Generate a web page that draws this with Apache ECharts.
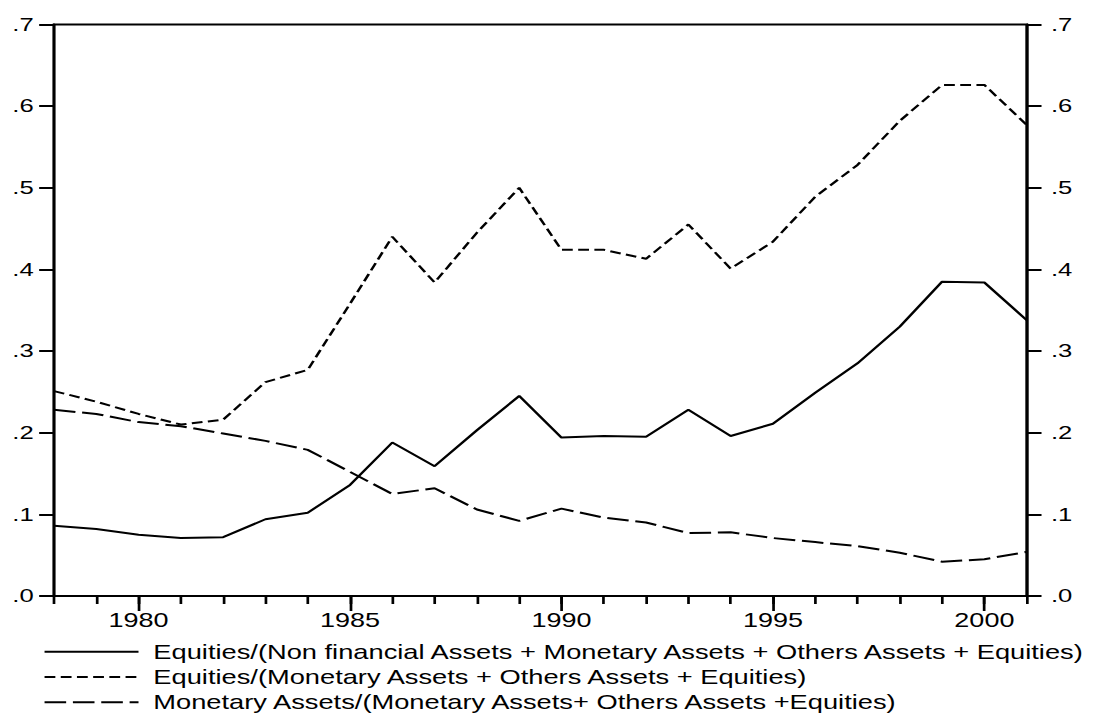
<!DOCTYPE html>
<html>
<head>
<meta charset="utf-8">
<script src="https://cdn.jsdelivr.net/npm/echarts@6/dist/echarts.min.js"></script>
<style>
html,body{margin:0;padding:0;background:#fff;overflow:hidden;width:1096px;height:716px;}
#c{width:812px;height:716px;transform:scaleX(1.35);transform-origin:0 0;}
</style>
</head>
<body>
<div id="c"></div>
<script>
const years = ['1978','1979','1980','1981','1982','1983','1984','1985','1986','1987','1988','1989','1990','1991','1992','1993','1994','1995','1996','1997','1998','1999','2000','2001'];
const equitiesTotal = [0.086,0.082,0.075,0.071,0.072,0.094,0.102,0.136,0.188,0.159,0.203,0.245,0.194,0.196,0.195,0.228,0.196,0.211,0.249,0.285,0.330,0.385,0.384,0.338];
const equitiesFinancial = [0.251,0.238,0.223,0.210,0.216,0.262,0.277,0.358,0.440,0.384,0.445,0.500,0.424,0.424,0.413,0.455,0.401,0.434,0.489,0.528,0.582,0.626,0.626,0.577];
const monetaryFinancial = [0.228,0.223,0.213,0.208,0.199,0.190,0.179,0.152,0.125,0.132,0.106,0.092,0.107,0.096,0.090,0.077,0.078,0.071,0.066,0.061,0.053,0.042,0.045,0.054];
const seriesNames = [
  'Equities/(Non financial Assets + Monetary Assets + Others Assets + Equities)',
  'Equities/(Monetary Assets + Others Assets + Equities)',
  'Monetary Assets/(Monetary Assets+ Others Assets +Equities)'
];
const yMin = 0, yMax = 0.7, yStep = 0.1;

const FONT = '"Liberation Sans", Arial, sans-serif';
const fmtY = v => v.toFixed(1).replace(/^0/, '');
const isMajor = (idx, val) => (+val) % 5 === 0;

const chart = echarts.init(document.getElementById('c'), null, {renderer: 'svg'});
const yAxisBase = {
  type: 'value', min: yMin, max: yMax, interval: yStep,
  splitLine: {show: false},
  axisLine: {show: true, lineStyle: {color: '#000', width: 2}},
  axisTick: {show: true, length: 11, lineStyle: {color: '#000', width: 2}},
  axisLabel: {color: '#000', fontFamily: FONT, fontSize: 19, formatter: fmtY}
};
chart.setOption({
  animation: false,
  backgroundColor: '#fff',
  grid: {left: 40, right: 51.5, top: 24.5, bottom: 120, show: true, borderColor: '#000', borderWidth: 2, backgroundColor: 'transparent'},
  xAxis: [
    {
      type: 'category', data: years, boundaryGap: false, position: 'bottom',
      axisLine: {show: true, onZero: false, lineStyle: {color: '#000', width: 2}},
      axisTick: {show: true, interval: 0, length: 8, lineStyle: {color: '#000', width: 2}},
      axisLabel: {show: true, interval: isMajor, margin: 14, color: '#000', fontFamily: FONT, fontSize: 20},
      splitLine: {show: false}
    },
    {
      type: 'category', data: years, boundaryGap: false, position: 'bottom',
      axisLine: {show: false, onZero: false},
      axisTick: {show: true, interval: isMajor, length: 15, lineStyle: {color: '#000', width: 2}},
      axisLabel: {show: false},
      splitLine: {show: false}
    }
  ],
  yAxis: [
    Object.assign({}, yAxisBase, {position: 'left', axisLabel: Object.assign({}, yAxisBase.axisLabel, {margin: 15})}),
    Object.assign({}, yAxisBase, {position: 'right', axisLabel: Object.assign({}, yAxisBase.axisLabel, {margin: 18})})
  ],
  legend: {
    orient: 'vertical', left: 32, top: 641.7, padding: 0,
    itemWidth: 69.6, itemHeight: 14, itemGap: 5.3,
    itemStyle: {opacity: 0},
    textStyle: {color: '#000', fontFamily: FONT, fontSize: 20.2, lineHeight: 20, padding: [0, 0, 0, 6]},
    data: seriesNames
  },
  series: [
    {name: seriesNames[0], type: 'line', data: equitiesTotal, xAxisIndex: 0, yAxisIndex: 0, symbol: 'none', showSymbol: false,
      lineStyle: {color: '#000', width: 2, type: 'solid'}, itemStyle: {color: '#000'}},
    {name: seriesNames[1], type: 'line', data: equitiesFinancial, xAxisIndex: 0, yAxisIndex: 0, symbol: 'none', showSymbol: false,
      lineStyle: {color: '#000', width: 2, type: [8, 4]}, itemStyle: {color: '#000'}},
    {name: seriesNames[2], type: 'line', data: monetaryFinancial, xAxisIndex: 0, yAxisIndex: 0, symbol: 'none', showSymbol: false,
      lineStyle: {color: '#000', width: 2, type: [16, 5]}, itemStyle: {color: '#000'}}
  ]
});
</script>
</body>
</html>
